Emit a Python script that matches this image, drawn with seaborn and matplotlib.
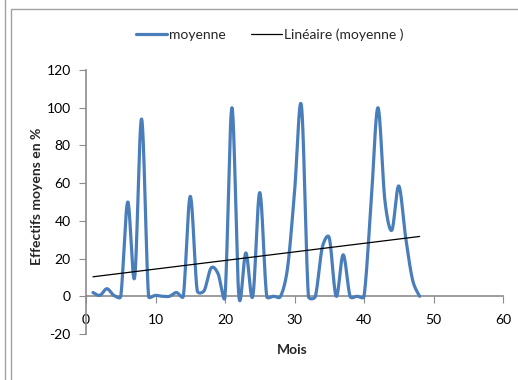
import numpy as np
import pandas as pd
import matplotlib
matplotlib.use("Agg")
import matplotlib.pyplot as plt
from matplotlib.lines import Line2D
from matplotlib.patches import Rectangle
import seaborn as sns

# Monthly mean headcount (%)
mois = list(range(1, 49))
moyenne = [2, 0.5, 4, 0.5, 0, 50, 10, 94, 0, 0.5, 0, 0,
           2, 0, 53, 3, 3, 15, 12, 0, 100, 0, 23, 0,
           55, 0, 0, 0, 15, 55, 101, 0, 0, 26, 31, 0,
           22, 0, 0, 0, 48, 100, 51, 35, 58.5, 31, 8.5, 0]

x_ticks = [0, 10, 20, 30, 40, 50, 60]
y_ticks = [-20, 0, 20, 40, 60, 80, 100, 120]

BLUE = "#4A7EBB"
AXIS_GREY = "#8C8C8C"

# Screen scale of one data unit (px), used so smoothing behaves in display space
PX_X = 417 / 60
PX_Y = 264 / 140


def smooth_curve(x, y, steps=24):
    """Bezier smoothing with 1/6 tension, control arms capped at half the chord."""
    x = np.asarray(x, float) * PX_X
    y = np.asarray(y, float) * PX_Y
    P = np.column_stack([x, y])
    P = np.vstack([P[0], P, P[-1]])
    t = np.linspace(0, 1, steps, endpoint=False)[:, None]
    out = []
    for i in range(1, len(P) - 2):
        p0, p1, p2, p3 = P[i - 1], P[i], P[i + 1], P[i + 2]
        chord = np.linalg.norm(p2 - p1)
        d1 = (p2 - p0) / 6.0
        d2 = (p3 - p1) / 6.0
        n1, n2 = np.linalg.norm(d1), np.linalg.norm(d2)
        if n1 > chord / 2:
            d1 *= (chord / 2) / n1
        if n2 > chord / 2:
            d2 *= (chord / 2) / n2
        c1, c2 = p1 + d1, p2 - d2
        pts = ((1 - t) ** 3 * p1 + 3 * (1 - t) ** 2 * t * c1
               + 3 * (1 - t) * t ** 2 * c2 + t ** 3 * p2)
        out.append(pts)
    out.append(P[-2][None, :])
    pts = np.vstack(out)
    return pts[:, 0] / PX_X, pts[:, 1] / PX_Y


sx, sy = smooth_curve(mois, moyenne)
curve = pd.DataFrame({"Mois": sx, "valeur": sy})

slope, intercept = np.polyfit(mois, moyenne, 1)
trend = pd.DataFrame({"Mois": [mois[0], mois[-1]],
                      "valeur": [intercept + slope * mois[0], intercept + slope * mois[-1]]})

sns.set_theme(style="white")
plt.rcParams["font.family"] = ["Lato", "DejaVu Sans"]

fig = plt.figure(figsize=(5.18, 3.80), dpi=100)
ax = fig.add_axes([86 / 518, 46 / 380, 417 / 518, 264 / 380])

sns.lineplot(data=curve, x="Mois", y="valeur", ax=ax, color=BLUE,
             linewidth=2.3, sort=False, estimator=None)
sns.lineplot(data=trend, x="Mois", y="valeur", ax=ax, color="black",
             linewidth=0.9, sort=False, estimator=None)

ax.set_xlim(0, 60)
ax.set_ylim(-20, 120)
ax.set_xticks(x_ticks)
ax.set_yticks(y_ticks)
ax.set_xticklabels([str(v) for v in x_ticks])
ax.set_yticklabels([str(v) for v in y_ticks])

for side in ("top", "right"):
    ax.spines[side].set_visible(False)
ax.spines["bottom"].set_position(("data", 0))
for side in ("left", "bottom"):
    ax.spines[side].set_color(AXIS_GREY)
    ax.spines[side].set_linewidth(1.2)
ax.spines["bottom"].set_zorder(0)

ax.tick_params(axis="both", which="major", direction="out", length=5,
               width=0.8, color=AXIS_GREY, labelsize=10, labelcolor="black",
               bottom=True, left=True)
ax.tick_params(axis="x", pad=8)
ax.tick_params(axis="y", pad=6)

ax.set_xlabel("")
ax.set_ylabel("")
fig.text(292 / 518, 1 - 350 / 380, "Mois", ha="center", va="center",
         fontsize=10, fontweight="bold")
fig.text(37 / 518, 1 - 196 / 380, "Effectifs moyens en %", ha="center",
         va="center", rotation=90, fontsize=10, fontweight="bold")

handles = [Line2D([], [], color=BLUE, linewidth=2.3),
           Line2D([], [], color="black", linewidth=0.9)]
fig.legend(handles, ["moyenne", "Linéaire (moyenne )"], loc="center",
           bbox_to_anchor=(270 / 518, 1 - 35 / 380), ncol=2, frameon=False,
           fontsize=10, handlelength=2.2, handletextpad=0.2, columnspacing=1.8)

# Chart-area frame
fig.add_artist(Rectangle((11 / 518, -0.05), 1.1, 1 - 9 / 380 + 0.05,
                         transform=fig.transFigure, fill=False,
                         edgecolor="#A0A0A0", linewidth=1.0))
fig.add_artist(Line2D([5 / 518, 5 / 518], [0, 1], transform=fig.transFigure,
                      color="#A0A0A0", linewidth=1.0))

fig.savefig("out.png", dpi=100)
